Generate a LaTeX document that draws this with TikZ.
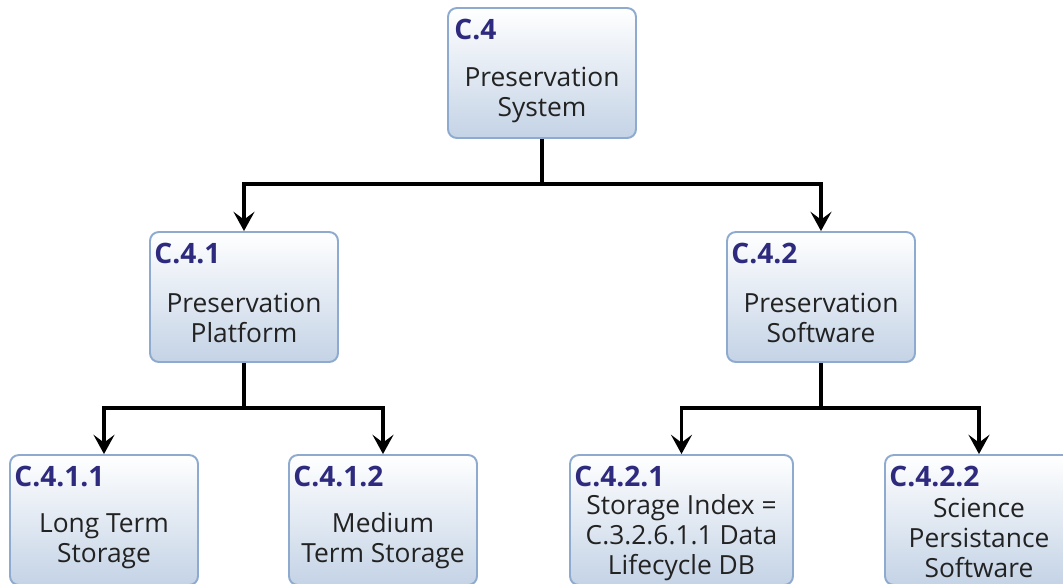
\documentclass[tikz,border=0pt]{standalone}
\usepackage{fontspec}
\setmainfont{Open Sans}
\usetikzlibrary{arrows.meta}

\definecolor{boxline}{HTML}{8EABCF}
\definecolor{boxbottom}{HTML}{C4D3E6}
\definecolor{idblue}{HTML}{2E2A7E}
\definecolor{bodygray}{HTML}{222222}

\tikzset{
	wbsbox/.style={draw=boxline, line width=1.1pt, rounded corners=5pt, top color=white, bottom color=boxbottom, minimum width=3.76cm, minimum height=2.6cm, inner sep=0pt},
	wbsid/.style={anchor=base west, inner sep=0pt, text=idblue, font=\fontsize{16}{19}\selectfont\bfseries},
	wbstext/.style={align=center, inner sep=0pt, text=bodygray, font=\fontsize{15}{17}\selectfont},
	wbsarrow/.style={line width=1.8pt, -{Stealth[length=11pt, width=12pt, inset=4.5pt]}}
}

\begin{document}
\begin{tikzpicture}[x=0.02cm, y=-0.02cm]
		\useasboundingbox (0,0) rectangle (1063,583);
		\clip (0,0) rectangle (1063,583);
		\node[wbsbox] (c4) at (542,73) {};
		\node[wbsbox] (c41) at (244,297) {};
		\node[wbsbox] (c42) at (821,297) {};
		\node[wbsbox] (c411) at (104,520) {};
		\node[wbsbox] (c412) at (383,520) {};
		\node[wbsbox, minimum width=4.46cm] (c421) at (681.5,520) {};
		\node[wbsbox] (c422) at (979,520) {};
		\node[wbsid] (c4id) at ([shift={(7,32)}]c4.north west) {C.4};
		\node[wbsid] (c41id) at ([shift={(5,32)}]c41.north west) {C.4.1};
		\node[wbsid] (c42id) at ([shift={(5,32)}]c42.north west) {C.4.2};
		\node[wbsid] (c411id) at ([shift={(5,32)}]c411.north west) {C.4.1.1};
		\node[wbsid] (c412id) at ([shift={(5,32)}]c412.north west) {C.4.1.2};
		\node[wbsid] (c421id) at ([shift={(5,32)}]c421.north west) {C.4.2.1};
		\node[wbsid] (c422id) at ([shift={(5,32)}]c422.north west) {C.4.2.2};
		\node[wbstext] (c4txt) at ([yshift=-22*0.02cm]c4.center) {Preservation\\System};
		\node[wbstext] (c41txt) at ([yshift=-21*0.02cm]c41.center) {Preservation\\Platform};
		\node[wbstext] (c42txt) at ([yshift=-21*0.02cm]c42.center) {Preservation\\Software};
		\node[wbstext] (c411txt) at ([yshift=-21*0.02cm]c411.center) {Long Term\\Storage};
		\node[wbstext] (c412txt) at ([yshift=-21*0.02cm]c412.center) {Medium\\Term Storage};
		\node[wbstext] (c421txt) at ([yshift=-18*0.02cm]c421.center) {Storage Index =\\C.3.2.6.1.1 Data\\Lifecycle DB};
		\node[wbstext] (c422txt) at ([yshift=-18*0.02cm]c422.center) {Science\\Persistance\\Software};
		\draw[wbsarrow] (c4.south) -- ++(0,45) -| (c41.north);
		\draw[wbsarrow] (c4.south) -- ++(0,45) -| (c42.north);
		\draw[wbsarrow] (c41.south) -- ++(0,45) -| (c411.north);
		\draw[wbsarrow] (c41.south) -- ++(0,45) -| (c412.north);
		\draw[wbsarrow] (c42.south) -- ++(0,45) -| (c421.north);
		\draw[wbsarrow] (c42.south) -- ++(0,45) -| (c422.north);
	\end{tikzpicture}
\end{document}
